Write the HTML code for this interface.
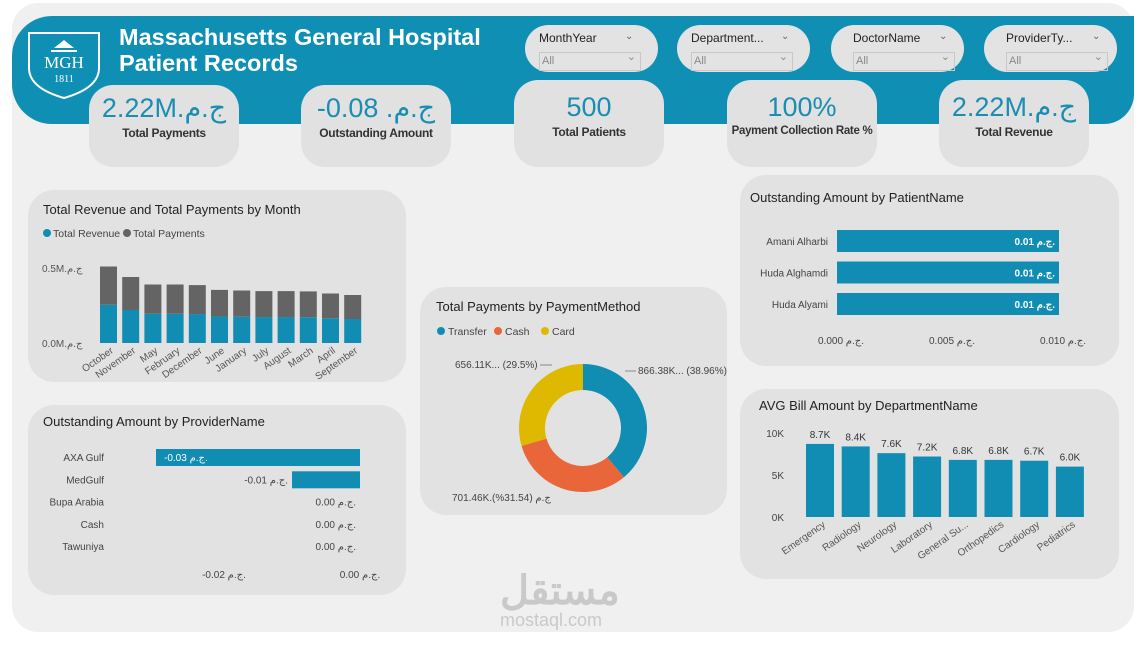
<!DOCTYPE html>
<html><head><meta charset="utf-8">
<style>
body{margin:0;width:1142px;height:645px;background:#fff;position:relative;overflow:hidden;font-family:"Liberation Sans","Noto Sans CJK SC",sans-serif;}
.abs{position:absolute}
.panel{position:absolute;background:#e2e2e2;border-radius:26px}
.kpi{position:absolute;background:#e1e1e1;border-radius:24px;text-align:center}
.kv{color:#1a8db2;font-size:27px;margin-top:8px;white-space:nowrap}
.kl{color:#333;font-size:12px;font-weight:bold;margin-top:2px;white-space:nowrap;letter-spacing:-0.3px}
.slicer{position:absolute;background:#e3e3e3;border-radius:24px;width:133px;height:47px}
.sl{position:absolute;left:14px;top:6px;font-size:12px;color:#222}
.sb{position:absolute;left:14px;top:27px;width:98px;height:17px;border:1px solid #c8c8c8;font-size:11px;color:#888;line-height:17px;padding-left:2px}
.chev{position:absolute;font-size:10px;color:#666}
</style></head><body>
<div class="abs" style="left:12px;top:3px;width:1122px;height:629px;background:#f0f0f0;border-radius:26px"></div>
<div class="abs" style="left:12px;top:16px;width:1122px;height:108px;background:#108fb4;border-radius:40px 0 30px 40px"></div>
<svg class="abs" style="left:26px;top:30px" width="76" height="70" viewBox="0 0 76 70">
<path d="M3 3 H73 V38 Q73 58 38 68 Q3 58 3 38 Z" fill="none" stroke="#fff" stroke-width="2"/>
<path d="M28 18 L38 10 L48 18 Z M25 20 H51 V22 H25Z" fill="#fff"/>
<text x="38" y="38" fill="#fff" font-family="Liberation Serif" font-size="17" text-anchor="middle">MGH</text>
<text x="38" y="52" fill="#fff" font-family="Liberation Serif" font-size="10" text-anchor="middle">1811</text></svg>
<div class="abs" style="left:119px;top:24px;color:#fff;font-weight:bold;font-size:23.5px;line-height:26px">Massachusetts General Hospital<br>Patient Records</div>

<div class="slicer" style="left:525px;top:25px"><div class="sl">MonthYear</div><div class="chev" style="left:100px;top:6px">&#8964;</div><div class="sb">All<span style="position:absolute;right:4px;top:-4px">&#8964;</span></div></div>
<div class="slicer" style="left:677px;top:25px"><div class="sl">Department...</div><div class="chev" style="left:104px;top:6px">&#8964;</div><div class="sb">All<span style="position:absolute;right:4px;top:-4px">&#8964;</span></div></div>
<div class="slicer" style="left:831px;top:25px"><div class="sl" style="left:22px">DoctorName</div><div class="chev" style="left:108px;top:6px">&#8964;</div><div class="sb" style="left:22px">All<span style="position:absolute;right:4px;top:-4px">&#8964;</span></div></div>
<div class="slicer" style="left:984px;top:25px"><div class="sl" style="left:22px">ProviderTy...</div><div class="chev" style="left:108px;top:6px">&#8964;</div><div class="sb" style="left:22px">All<span style="position:absolute;right:4px;top:-4px">&#8964;</span></div></div>

<div class="kpi" style="left:89px;top:85px;width:150px;height:82px"><div class="kv">2.22M.ج.م</div><div class="kl">Total Payments</div></div>
<div class="kpi" style="left:301px;top:85px;width:150px;height:82px"><div class="kv">-0.08 .ج.م</div><div class="kl">Outstanding Amount</div></div>
<div class="kpi" style="left:514px;top:80px;width:150px;height:87px"><div class="kv" style="margin-top:12px">500</div><div class="kl">Total Patients</div></div>
<div class="kpi" style="left:727px;top:80px;width:150px;height:87px"><div class="kv" style="margin-top:12px">100%</div><div class="kl" style="font-size:11.5px">Payment Collection Rate %</div></div>
<div class="kpi" style="left:939px;top:80px;width:150px;height:87px"><div class="kv" style="margin-top:12px">2.22M.ج.م</div><div class="kl">Total Revenue</div></div>

<div class="panel" style="left:28px;top:190px;width:378px;height:192px"></div>
<div class="panel" style="left:28px;top:405px;width:378px;height:190px"></div>
<div class="panel" style="left:420px;top:287px;width:307px;height:228px"></div>
<div class="panel" style="left:740px;top:175px;width:379px;height:191px"></div>
<div class="panel" style="left:740px;top:389px;width:379px;height:190px"></div>

<svg class="abs" id="chart" style="left:0;top:0" width="1142" height="645" font-family="Liberation Sans, Noto Sans CJK SC, sans-serif"></svg>

<div class="abs" style="left:500px;top:568px;color:#c9c9c9;font-size:40px;font-weight:bold;font-family:'Liberation Sans','Noto Sans CJK SC',sans-serif">مستقل</div>
<div class="abs" style="left:500px;top:610px;color:#c9c9c9;font-size:18px">mostaql.com</div>

<script>
const months=["October","November","May","February","December","June","January","July","August","March","April","September"];
const revenue=[0.255,0.22,0.195,0.195,0.193,0.177,0.175,0.173,0.173,0.172,0.165,0.16];
const payments=[0.255,0.22,0.195,0.195,0.193,0.177,0.175,0.173,0.173,0.172,0.165,0.16];
const providers=["AXA Gulf","MedGulf","Bupa Arabia","Cash","Tawuniya"];
const providerValues=[-0.03,-0.01,0,0,0];
const providerLabels=["-0.03 ج.م.","-0.01 ج.م.","0.00 ج.م.","0.00 ج.م.","0.00 ج.م."];
const methods=["Transfer","Cash","Card"];
const methodValues=[866.38,701.46,656.11];
const methodLabels=["866.38K... (38.96%)","701.46K.ج.م (31.54%)","656.11K... (29.5%)"];
const patients=["Amani Alharbi","Huda Alghamdi","Huda Alyami"];
const patientValues=[0.01,0.01,0.01];
const departments=["Emergency","Radiology","Neurology","Laboratory","General Su...","Orthopedics","Cardiology","Pediatrics"];
const deptValues=[8.7,8.4,7.6,7.2,6.8,6.8,6.7,6.0];

const svg=document.getElementById('chart');
const NS='http://www.w3.org/2000/svg';
function mk(tag,a,txt){const e=document.createElementNS(NS,tag);for(const k in a)e.setAttribute(k,a[k]);if(txt!==undefined)e.textContent=txt;svg.appendChild(e);return e;}
const BLUE='#118db3',GRAY='#646464';

let t=mk('text',{x:43,y:214,'font-size':13,fill:'#222'},'Total Revenue and Total Payments by Month');


mk('circle',{cx:47,cy:233,r:4,fill:BLUE});mk('text',{x:53,y:237,'font-size':10.5,fill:'#444'},'Total Revenue');
mk('circle',{cx:127,cy:233,r:4,fill:GRAY});mk('text',{x:133,y:237,'font-size':10.5,fill:'#444'},'Total Payments');
const y1=v=>343-v/0.5*75;
mk('text',{x:42,y:272,'font-size':10,fill:'#555'},'0.5M.ج.م');
mk('text',{x:42,y:347,'font-size':10,fill:'#555'},'0.0M.ج.م');
months.forEach((m,i)=>{const x=100+i*22.2;
 const r=mk('rect',{x:x,y:y1(revenue[i]),width:17,height:343-y1(revenue[i]),fill:BLUE});
 
 
 const p=mk('rect',{x:x,y:y1(revenue[i]+payments[i]),width:17,height:y1(revenue[i])-y1(revenue[i]+payments[i]),fill:GRAY});
 
 
 mk('text',{x:x+14,y:352,'font-size':10,fill:'#555','text-anchor':'end',transform:`rotate(-35 ${x+14} 352)`},m);
});

mk('text',{x:43,y:426,'font-size':13,fill:'#222'},'Outstanding Amount by ProviderName');
const x2=v=>360+v*6800;
providers.forEach((p,i)=>{const y=457+i*22.3;
 mk('text',{x:104,y:y+4,'font-size':10,fill:'#444','text-anchor':'end'},p);
 const v=providerValues[i];
 if(v!==0){const b=mk('rect',{x:x2(v),y:y-8,width:x2(0)-x2(v),height:17,fill:BLUE});
  
  }
 const inside=(x2(0)-x2(v))>100;
 mk('text',{x:inside?x2(v)+8:x2(v)-4,y:y+4,'font-size':10,fill:inside?'#fff':'#444','text-anchor':inside?'start':'end'},providerLabels[i]);
});
mk('text',{x:x2(-0.02),y:578,'font-size':10,fill:'#444','text-anchor':'middle'},'-0.02 ج.م.');
mk('text',{x:x2(0),y:578,'font-size':10,fill:'#444','text-anchor':'middle'},'0.00 ج.م.');

mk('text',{x:436,y:311,'font-size':13,fill:'#222'},'Total Payments by PaymentMethod');
const cols=[BLUE,'#e8663a','#dfb800'];
let lx=437;methods.forEach((m,i)=>{mk('circle',{cx:lx+4,cy:331,r:4,fill:cols[i]});mk('text',{x:lx+11,y:335,'font-size':10.5,fill:'#444'},m);lx+=[57,47,0][i];});
const cx=583,cy=428,R=64,r0=38,tot=methodValues.reduce((a,b)=>a+b,0);let a0=-Math.PI/2;
methodValues.forEach((v,i)=>{const a1=a0+v/tot*2*Math.PI,lg=(a1-a0)>Math.PI?1:0;
 const P=(r,a)=>[cx+r*Math.cos(a),cy+r*Math.sin(a)];
 const [x1,yy1]=P(R,a0),[x2_,y2]=P(R,a1),[x3,y3]=P(r0,a1),[x4,y4]=P(r0,a0);
 const s=mk('path',{d:`M${x1} ${yy1}A${R} ${R} 0 ${lg} 1 ${x2_} ${y2}L${x3} ${y3}A${r0} ${r0} 0 ${lg} 0 ${x4} ${y4}Z`,fill:cols[i]});
 
 
 a0=a1;});
mk('text',{x:638,y:374,'font-size':10,fill:'#444'},methodLabels[0]);
mk('text',{x:452,y:501,'font-size':10,fill:'#444'},methodLabels[1]);
mk('text',{x:455,y:368,'font-size':10,fill:'#444'},methodLabels[2]);
mk('line',{x1:625,y1:371,x2:636,y2:371,stroke:'#888'});
mk('line',{x1:540,y1:365,x2:552,y2:365,stroke:'#888'});

mk('text',{x:750,y:202,'font-size':13,fill:'#222'},'Outstanding Amount by PatientName');
const xp=v=>837+v*22200;
patients.forEach((p,i)=>{const y=241+i*31.5;
 mk('text',{x:828,y:y+4,'font-size':10,fill:'#444','text-anchor':'end'},p);
 const b=mk('rect',{x:xp(0),y:y-11,width:xp(patientValues[i])-xp(0),height:22,fill:BLUE});
 
 
 mk('text',{x:xp(patientValues[i])-4,y:y+4,'font-size':10,fill:'#fff','text-anchor':'end','font-weight':'bold'},'0.01 ج.م.');
});
[["0.000 ج.م.",0],["0.005 ج.م.",0.005],["0.010 ج.م.",0.01]].forEach(([l,v])=>mk('text',{x:xp(v)+4,y:344,'font-size':10,fill:'#444','text-anchor':'middle'},l));

mk('text',{x:759,y:410,'font-size':13,fill:'#222'},'AVG Bill Amount by DepartmentName');
const yd=v=>517-v*8.4;
[["10K",10],["5K",5],["0K",0]].forEach(([l,v])=>mk('text',{x:784,y:yd(v)+4,'font-size':10,fill:'#444','text-anchor':'end'},l));
departments.forEach((d,i)=>{const x=806+i*35.7;
 const b=mk('rect',{x:x,y:yd(deptValues[i]),width:28,height:517-yd(deptValues[i]),fill:BLUE});
 
 
 mk('text',{x:x+14,y:yd(deptValues[i])-6,'font-size':10,fill:'#333','text-anchor':'middle'},deptValues[i].toFixed(1)+'K');
 mk('text',{x:x+20,y:526,'font-size':10,fill:'#555','text-anchor':'end',transform:`rotate(-35 ${x+20} 526)`},d);
});
</script>
</body></html>
